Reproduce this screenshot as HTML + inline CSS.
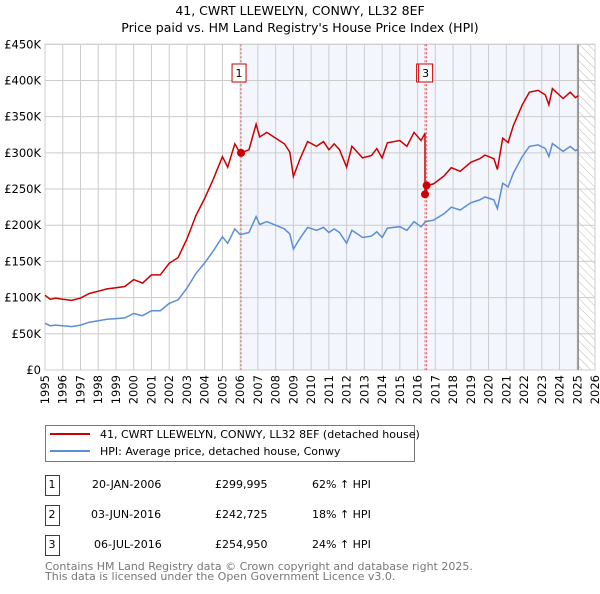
<!DOCTYPE html>
<html><head><meta charset="utf-8"><style>
body{margin:0;background:#fff;font-family:"DejaVu Sans","Liberation Sans",sans-serif}
svg text{font-family:"DejaVu Sans","Liberation Sans",sans-serif}
</style></head><body>
<svg id="c" width="600" height="590" xmlns="http://www.w3.org/2000/svg">
<defs><pattern id="hatch" width="6" height="6" patternUnits="userSpaceOnUse" patternTransform="rotate(-45)"><line x1="0" y1="0" x2="0" y2="6" stroke="#bbb" stroke-width="1"/></pattern></defs>
<text x="300" y="15" text-anchor="middle" font-size="12.5">41, CWRT LLEWELYN, CONWY, LL32 8EF</text>
<text x="300" y="32" text-anchor="middle" font-size="12.5">Price paid vs. HM Land Registry's House Price Index (HPI)</text>
<g id="plot"></g>
<g>
<rect x="45.5" y="425.5" width="369" height="36" fill="#fff" stroke="#777"/>
<line x1="50" y1="434" x2="90" y2="434" stroke="#cc0000" stroke-width="2"/>
<text x="100" y="438" font-size="11">41, CWRT LLEWELYN, CONWY, LL32 8EF (detached house)</text>
<line x1="50" y1="451" x2="90" y2="451" stroke="#5b8ed6" stroke-width="2"/>
<text x="100" y="455" font-size="11">HPI: Average price, detached house, Conwy</text>
</g>
<g font-size="11">
<rect x="45.5" y="475.5" width="14" height="20" fill="#fff" stroke="#cc0000"/><text x="52" y="488" text-anchor="middle">1</text>
<text x="92" y="488">20-JAN-2006</text><text x="215" y="488">£299,995</text><text x="312" y="488">62% ↑ HPI</text>
<rect x="45.5" y="505.5" width="14" height="20" fill="#fff" stroke="#cc0000"/><text x="52" y="518" text-anchor="middle">2</text>
<text x="91" y="518">03-JUN-2016</text><text x="215" y="518">£242,725</text><text x="312" y="518">18% ↑ HPI</text>
<rect x="45.5" y="535.5" width="14" height="20" fill="#fff" stroke="#cc0000"/><text x="52" y="548" text-anchor="middle">3</text>
<text x="94" y="548">06-JUL-2016</text><text x="215" y="548">£254,950</text><text x="312" y="548">24% ↑ HPI</text>
</g>
<text x="45" y="570" font-size="11" fill="#777">Contains HM Land Registry data © Crown copyright and database right 2025.</text>
<text x="45" y="580" font-size="11" fill="#777">This data is licensed under the Open Government Licence v3.0.</text>
</svg>
<script>
const hpiYears=[1995,1995.3,1995.6,1996,1996.5,1997,1997.5,1998,1998.5,1999,1999.5,2000,2000.5,2001,2001.5,2002,2002.5,2003,2003.3,2003.5,2004,2004.5,2005,2005.3,2005.7,2006,2006.5,2006.9,2007.1,2007.5,2008,2008.5,2008.8,2009.0,2009.37,2009.8,2010.3,2010.7,2011,2011.3,2011.6,2012.0,2012.3,2012.9,2013.4,2013.7,2014.0,2014.3,2015,2015.4,2015.8,2016.2,2016.45,2016.9,2017.5,2017.9,2018.4,2019.0,2019.5,2019.8,2020.3,2020.5,2020.8,2021.1,2021.4,2021.9,2022.3,2022.8,2023.2,2023.4,2023.6,2024.2,2024.6,2024.9,2025.05];
const hpiValues=[64.5,61,62,61,60,62,66,68,70,71,72,78,75,82,82,92,97,113,125,133,148,165,184,175,195,187,190,212,201,205,200,195,188,167,182,197,193,197,190,195,190,175,193,183,185,191,183,196,198,193,205,198,205,207,216,225,221,231,235,239,235,223,258,253,272,295,309,311,306,295,313,302,309,303,305];
const saleYears=[2006.05,2016.42,2016.51];
const salePrices=[299.995,242.725,254.95];
const saleLabels=["1","2","3"];
const yTicks=[0,50,100,150,200,250,300,350,400,450];
const yTickLabels=["£0","£50K","£100K","£150K","£200K","£250K","£300K","£350K","£400K","£450K"];
const xTicks=[];for(let y=1995;y<=2026;y++)xTicks.push(y);

const X0=45,X1=595,Y0=370,Y1=44.3,YR0=1995,YR1=2026,VMAX=450;
const xs=y=>X0+(y-YR0)/(YR1-YR0)*(X1-X0);
const ys=v=>Y0-v/VMAX*(Y0-Y1);
const NS="http://www.w3.org/2000/svg";
const g=document.getElementById('plot');
function mk(t,a,p){const e=document.createElementNS(NS,t);for(const k in a)e.setAttribute(k,a[k]);(p||g).appendChild(e);return e;}
function hpiAt(y){for(let i=1;i<hpiYears.length;i++){if(y<=hpiYears[i]){const t=(y-hpiYears[i-1])/(hpiYears[i]-hpiYears[i-1]);return hpiValues[i-1]+t*(hpiValues[i]-hpiValues[i-1]);}}return hpiValues[hpiValues.length-1];}
const endY=hpiYears[hpiYears.length-1];
let r=mk('rect',{x:xs(saleYears[0]),y:Y1,width:xs(endY)-xs(saleYears[0]),height:Y0-Y1,fill:'#f3f6fd'});


r=mk('rect',{x:xs(endY),y:Y1,width:X1-xs(endY),height:Y0-Y1,fill:'url(#hatch)'});


yTicks.forEach((v,i)=>{let l=mk('line',{x1:X0,x2:X1,y1:ys(v),y2:ys(v),stroke:'#ccc'});


let t=mk('text',{x:X0-4,y:ys(v)+4,'text-anchor':'end','font-size':'11.5'});t.textContent=yTickLabels[i];

});
xTicks.forEach(y=>{let l=mk('line',{x1:xs(y),x2:xs(y),y1:Y1,y2:Y0,stroke:'#ccc'});


let t=mk('text',{x:0,y:0,'text-anchor':'end','font-size':'11.5',transform:`translate(${xs(y)+4},${Y0+5}) rotate(-90)`});t.textContent=y;

});
let b=mk('rect',{x:X0,y:Y1,width:X1-X0,height:Y0-Y1,fill:'none',stroke:'#ccc'});


let vl=mk('line',{x1:xs(endY),x2:xs(endY),y1:Y1,y2:Y0,stroke:'#888','stroke-width':1.5});


saleYears.forEach((y,i)=>{let l=mk('line',{x1:xs(y),x2:xs(y),y1:Y1,y2:Y0,stroke:'#ee5555','stroke-dasharray':'2,2'});

});
let d='';hpiYears.forEach((y,i)=>{d+=(i?'L':'M')+xs(y).toFixed(1)+','+ys(hpiValues[i]).toFixed(1);});
let hp=mk('path',{d:d,fill:'none',stroke:'#5b8ed6','stroke-width':1.5});


let pts=[];
function ratioAt(y){let k=0;for(let i=0;i<saleYears.length;i++)if(y>=saleYears[i])k=i;return salePrices[k]/hpiAt(saleYears[k]);}
hpiYears.forEach((y,i)=>{
 for(let s=0;s<saleYears.length;s++){if(i>0&&hpiYears[i-1]<saleYears[s]&&y>=saleYears[s]){pts.push([saleYears[s],hpiAt(saleYears[s])*(s?salePrices[s-1]/hpiAt(saleYears[s-1]):salePrices[0]/hpiAt(saleYears[0]))]);pts.push([saleYears[s],salePrices[s]]);}}
 pts.push([y,hpiValues[i]*ratioAt(y)]);});
d='';pts.forEach((p,i)=>{d+=(i?'L':'M')+xs(p[0]).toFixed(1)+','+ys(p[1]).toFixed(1);});
let pp=mk('path',{d:d,fill:'none',stroke:'#cc0000','stroke-width':1.5});


saleYears.forEach((y,i)=>{let c=mk('circle',{cx:xs(y),cy:ys(salePrices[i]),r:4,fill:'#cc0000'});

});
const box3x=xs(saleYears[2])-8;
[0,1,2].forEach(i=>{const bx=i===0?xs(saleYears[0])-9:(i===1?box3x-2:box3x);
let rr=mk('rect',{x:bx,y:64,width:14,height:18,fill:'#fff',stroke:'#cc0000'});


let t=mk('text',{x:bx+7,y:77,'text-anchor':'middle','font-size':'11'});t.textContent=saleLabels[i];

});
</script>
</body></html>
